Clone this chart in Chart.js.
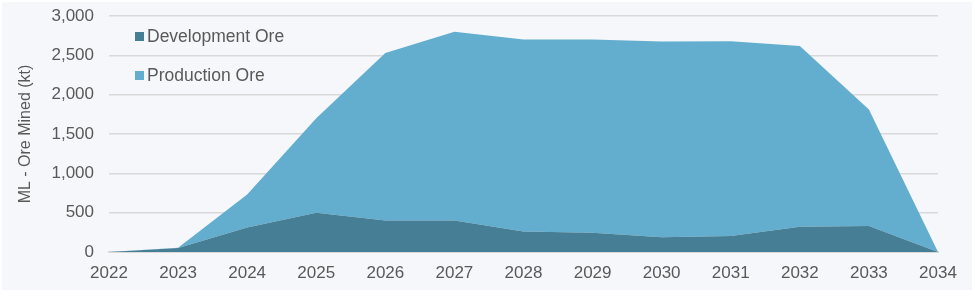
<!DOCTYPE html>
<html>
<head>
<meta charset="utf-8">
<script src="https://cdn.jsdelivr.net/npm/chart.js@4.4.1/dist/chart.umd.min.js"></script>
<style>
  html, body { margin: 0; padding: 0; background: #ffffff; }
  #wrap { position: absolute; left: 0; top: 0; width: 975px; height: 296px; }
  canvas { display: block; }
</style>
</head>
<body>
<div id="wrap"><canvas id="c" width="975" height="296"></canvas></div>
<script>
const years = ['2022','2023','2024','2025','2026','2027','2028','2029','2030','2031','2032','2033','2034'];
const developmentOre = [0, 50, 310, 500, 400, 400, 260, 245, 186, 203, 322, 330, 0];
const productionOre  = [0, 5, 420, 1200, 2130, 2400, 2440, 2455, 2490, 2477, 2298, 1480, 0];
const yTicks = [0, 500, 1000, 1500, 2000, 2500, 3000];

const FONT = "'Liberation Sans', Arial, sans-serif";
const TEXT = '#595959';
const DEV_COLOR = '#467f95';
const PROD_COLOR = '#63aecf';

const bgPlugin = {
  id: 'bg',
  beforeDraw(chart) {
    const ctx = chart.ctx;
    ctx.save();
    ctx.fillStyle = '#ffffff';
    ctx.fillRect(0, 0, chart.width, chart.height);
    ctx.fillStyle = '#f5f7fb';
    ctx.fillRect(2, 2, 970, 288);
    ctx.restore();
  }
};

const legendPlugin = {
  id: 'customLegend',
  afterDraw(chart) {
    const ctx = chart.ctx;
    ctx.save();
    ctx.font = '17.5px ' + FONT;
    ctx.textBaseline = 'middle';
    const rows = [37, 76];
    chart.data.datasets.forEach((ds, i) => {
      const y = rows[i];
      ctx.fillStyle = ds.backgroundColor;
      ctx.fillRect(135, y - 5, 9, 9);
      ctx.fillStyle = TEXT;
      ctx.fillText(ds.label, 147, y);
    });
    ctx.restore();
  }
};

new Chart(document.getElementById('c'), {
  type: 'line',
  data: {
    labels: years,
    datasets: [
      { label: 'Development Ore', data: developmentOre, backgroundColor: DEV_COLOR, borderColor: DEV_COLOR,
        borderWidth: 0, fill: 'origin', pointRadius: 0, tension: 0 },
      { label: 'Production Ore', data: productionOre, backgroundColor: PROD_COLOR, borderColor: PROD_COLOR,
        borderWidth: 0, fill: '-1', pointRadius: 0, tension: 0 }
    ]
  },
  options: {
    responsive: false,
    animation: false,
    layout: { padding: { left: 16, right: 37, top: 16, bottom: 0 } },
    plugins: {
      legend: { display: false },
      tooltip: { enabled: false }
    },
    scales: {
      x: {
        stacked: true,
        offset: false,
        grid: { display: false, drawTicks: false },
        border: { display: true, color: '#d9d9d9', width: 2 },
        ticks: { color: TEXT, font: { family: FONT, size: 17 }, padding: 11, maxRotation: 0, autoSkip: false },
        afterFit(scale) { scale.height = 44; scale.paddingLeft = 0; scale.paddingRight = 0; }
      },
      y: {
        stacked: true,
        min: 0, max: 3000,
        afterBuildTicks(scale) { scale.ticks = yTicks.map(v => ({ value: v })); },
        grid: { color: '#d9d9d9', lineWidth: 1.5, drawTicks: false },
        border: { display: false },
        ticks: {
          color: TEXT, font: { family: FONT, size: 17 }, padding: 15,
          callback: v => v.toLocaleString('en-US')
        },
        title: { display: true, text: 'ML - Ore Mined (kt)', color: TEXT, font: { family: FONT, size: 16 }, padding: { top: 0, bottom: 4 } },
        afterFit(scale) { scale.width = 93; scale.paddingTop = 0; scale.paddingBottom = 0; }
      }
    }
  },
  plugins: [bgPlugin, legendPlugin]
});
</script>
</body>
</html>
